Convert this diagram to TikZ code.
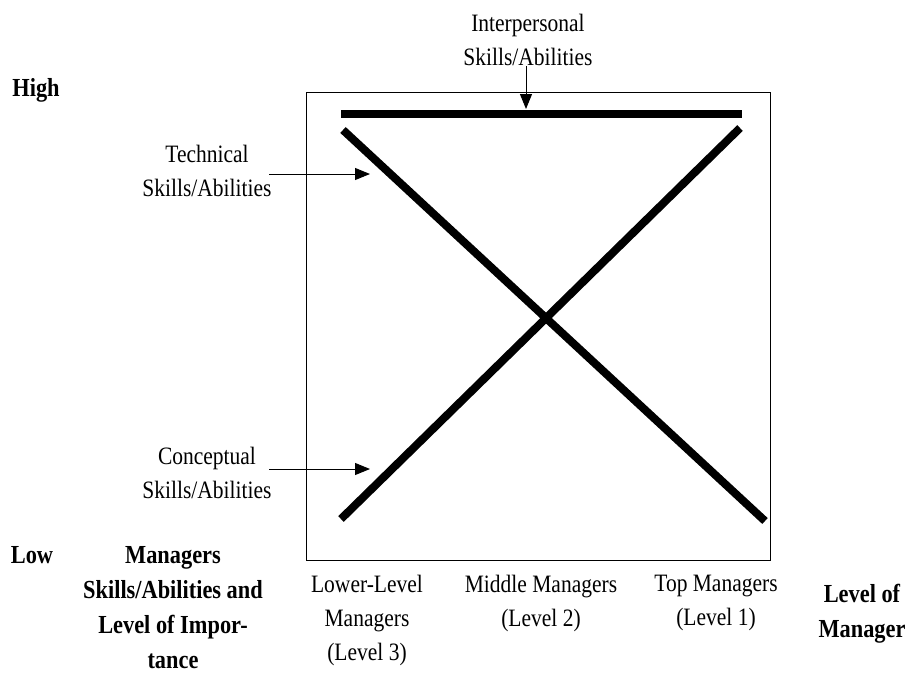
\documentclass[tikz,border=0pt]{standalone}
\usepackage{fontspec}
\setmainfont{Liberation Serif}[FakeStretch=0.86]
\usetikzlibrary{arrows.meta}
\begin{document}
\begin{tikzpicture}[x=1pt,y=-1pt,
  lbl/.style={font=\fontsize{25}{34}\selectfont, align=center, inner sep=0pt},
  blbl/.style={font=\fontsize{26}{35}\selectfont\bfseries, align=center, inner sep=0pt},
  thickline/.style={line width=8pt, line cap=butt},
  ptr/.style={line width=1pt, -{Triangle[length=15pt,width=12pt]}}]
\useasboundingbox (0,0) rectangle (906,673);
% frame
\draw[line width=1pt] (306,92) rectangle (770,560);
% skill lines
\coordinate (iL) at (341,114);
\coordinate (iR) at (742,114);
\coordinate (tA) at (343,130);
\coordinate (tB) at (765,521);
\coordinate (cA) at (341,519);
\coordinate (cB) at (740,128);
\draw[thickline] (iL) -- (iR);
\draw[thickline] (tA) -- (tB);
\draw[thickline] (cA) -- (cB);
% labels
\node[lbl] (inter) at (528,40) {Interpersonal\\Skills/Abilities};
\node[lbl] (tech) at (207,171) {Technical\\Skills/Abilities};
\node[lbl] (conc) at (207,473) {Conceptual\\Skills/Abilities};
\coordinate (iS) at (526,66);
\coordinate (iE) at (526,109);
\coordinate (tS) at (269,174);
\coordinate (tE) at (370,174);
\coordinate (cS) at (269,469);
\coordinate (cE) at (370,469);
\draw[ptr] (iS) -- (iE);
\draw[ptr] (tS) -- (tE);
\draw[ptr] (cS) -- (cE);
% axis labels
\node[blbl] (high) at (36,90) {High};
\node[blbl] (low) at (32,555) {Low};
\node[blbl] (axis) at (173,608) {Managers\\Skills/Abilities and\\Level of Impor-\\tance};
\node[lbl] (lower) at (367,620) {Lower-Level\\Managers\\(Level 3)};
\node[lbl] (middle) at (541,603) {Middle Managers\\(Level 2)};
\node[lbl] (top) at (716,603) {Top Managers\\(Level 1)};
\node[blbl] (lvl) at (862,614) {Level of\\Manager};
\end{tikzpicture}
\end{document}
